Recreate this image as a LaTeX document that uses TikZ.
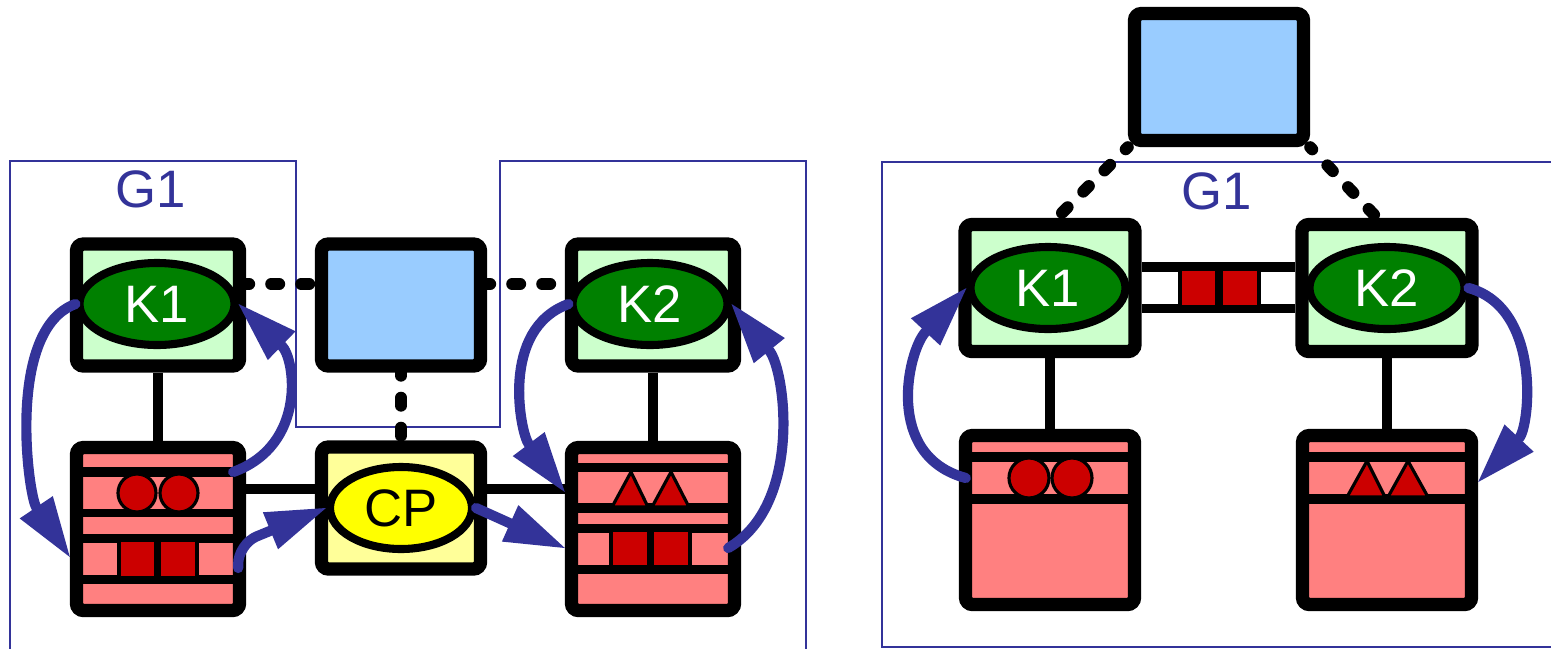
\documentclass[tikz,border=0pt]{standalone}
\usepackage{fontspec}
\setmainfont{Liberation Sans}
\usetikzlibrary{arrows.meta,shapes.geometric}

\definecolor{kmint}{HTML}{CCFFCC}
\definecolor{kgreen}{HTML}{008000}
\definecolor{srvblue}{HTML}{99CCFF}
\definecolor{cpcream}{HTML}{FFFF99}
\definecolor{cpyellow}{HTML}{FFFF00}
\definecolor{bufpink}{HTML}{FF8080}
\definecolor{tokred}{HTML}{CC0000}
\definecolor{grpblue}{HTML}{333399}

\tikzset{
  pics/bufdots/.style={code={
    \fill (-76,52) rectangle (76,62);
    \fill (-76,12) rectangle (76,20);
    \fill (-76,-14) rectangle (76,-5);
    \fill (-76,-55) rectangle (76,-46);
    \draw[tok] (-21,36) circle (19);
    \draw[tok] (21,36) circle (19);
    \draw[tok] (-39,-49) rectangle (-2,-11);
    \draw[tok] (1,-49) rectangle (39,-11);
  }},
  pics/buftri/.style={code={
    \fill (-76,57) rectangle (76,66);
    \fill (-76,16) rectangle (76,26);
    \fill (-76,-4) rectangle (76,5);
    \fill (-76,-45) rectangle (76,-36);
    \draw[tok] (-41,22) -- (-22,57) -- (-5,22) -- cycle;
    \draw[tok] (-1,22) -- (18,57) -- (36,22) -- cycle;
    \draw[tok] (-42,-38) rectangle (-4,-1);
    \draw[tok] (-1,-38) rectangle (37,-1);
  }},
  pics/slotdots/.style={code={
    \fill (-78,58) rectangle (78,68);
    \fill (-78,16) rectangle (78,26);
    \draw[tok] (-21,42) circle (20);
    \draw[tok] (22,42) circle (20);
  }},
  pics/slottri/.style={code={
    \fill (-78,58) rectangle (78,68);
    \fill (-78,16) rectangle (78,26);
    \draw[tok] (-40,23) -- (-20,59) -- (-2,23) -- cycle;
    \draw[tok] (1,23) -- (21,59) -- (41,23) -- cycle;
  }},
  box/.style={draw, line width=3.8pt, rounded corners=2pt, inner sep=0pt},
  kbox/.style={box, fill=kmint},
  srvbox/.style={box, fill=srvblue},
  cpbox/.style={box, fill=cpcream},
  bufbox/.style={box, fill=bufpink},
  kell/.style={ellipse, draw, line width=2.3pt, fill=kgreen, text=white, inner sep=0pt,
    minimum width=1.55cm, minimum height=0.82cm, font=\fontsize{15}{18}\selectfont},
  cpell/.style={kell, fill=cpyellow, text=black, minimum width=1.42cm},
  tok/.style={fill=tokred, draw=black, line width=0.9pt},
  wire/.style={line width=2.8pt},
  link/.style={line width=3.4pt, line cap=round, dash pattern=on 0.8mm off 2.2mm, dash phase=0.5mm},
  flow/.style={-{Triangle[length=6mm,width=4mm,line width=0pt]}, line width=2.9pt, draw=grpblue, line cap=round},
  grp/.style={draw=grpblue, line width=0.8pt},
  glab/.style={text=grpblue, font=\fontsize{15}{18}\selectfont}
}

\begin{document}
\begin{tikzpicture}[x=0.1mm,y=0.1mm]
\useasboundingbox (0,0) rectangle (1551,648);

% ---------------- Group outlines ----------------
\draw[grp] (10,-2) -- (10,487) -- (296,487) -- (296,221) -- (500,221) -- (500,487) -- (806,487) -- (806,-2);
\draw[grp] (1553,486) -- (882,486) -- (882,1) -- (1553,1);
\node[glab] (gl1) at (151,459) {G1};
\node[glab] (gl2) at (1217,457) {G1};

% ---------------- Left: two kernels around server and CP ----------------
\node[kbox, minimum width=1.63cm, minimum height=1.22cm] (kbA) at (158,343) {};
\node[srvbox, minimum width=1.59cm, minimum height=1.22cm] (srvL) at (401,343) {};
\node[kbox, minimum width=1.63cm, minimum height=1.22cm] (kbB) at (653,343) {};
\node[cpbox, minimum width=1.59cm, minimum height=1.22cm] (cpbox) at (401,140) {};
\node[bufbox, minimum width=1.63cm, minimum height=1.63cm] (bufA) at (158,119) {};
\node[bufbox, minimum width=1.63cm, minimum height=1.63cm] (bufB) at (653,119) {};
\path (bufA) pic {bufdots};
\path (bufB) pic {buftri};

\coordinate (dline) at (400,364);
\coordinate (hbus) at (400,159);
\draw[link] (kbA.east |- dline) -- (srvL.west |- dline);
\draw[link] (srvL.east |- dline) -- (kbB.west |- dline);
\draw[link] (srvL.south) -- (cpbox.north);
\draw[wire] (kbA.south) -- (bufA.north);
\draw[wire] (kbB.south) -- (bufB.north);
\draw[wire] (bufA.east |- hbus) -- (cpbox.west |- hbus);
\draw[wire] (cpbox.east |- hbus) -- (bufB.west |- hbus);

\node[kell] (keA) at (157,344) {K1};
\node[kell] (keB) at (650,344) {K2};
\node[cpell] (cp) at (401,140) {CP};

\draw[flow] (keA.west) to[out=200,in=124,looseness=0.75] ([yshift=-2.8mm]bufA.west);
\draw[flow] ([xshift=-1.3mm,yshift=5.7mm]bufA.east) to[out=20,in=-44,looseness=1.2] (keA.east);
\draw[flow, rounded corners=2mm] ([xshift=-0.8mm,yshift=-3.9mm]bufA.east) -- ++(0,24) -- (cp.west);
\draw[flow] (cp.east) -- ([yshift=-1.9mm]bufB.west);
\draw[flow] (keB.west) to[out=200,in=127,looseness=1.0] ([yshift=3.7mm]bufB.west);
\draw[flow] ([xshift=-1.3mm,yshift=-1.9mm]bufB.east) to[out=30,in=-51,looseness=0.9] (keB.east);

% ---------------- Right: kernels joined by a channel ----------------
\node[srvbox, minimum width=1.69cm, minimum height=1.27cm] (srvR) at (1219,571) {};
\node[kbox, minimum width=1.70cm, minimum height=1.27cm] (kbC) at (1050,360) {};
\node[kbox, minimum width=1.70cm, minimum height=1.27cm] (kbD) at (1387,360) {};
\node[bufbox, minimum width=1.69cm, minimum height=1.69cm] (bufC) at (1050,128) {};
\node[bufbox, minimum width=1.69cm, minimum height=1.69cm] (bufD) at (1387,128) {};
\path (bufC) pic {slotdots};
\path (bufD) pic {slottri};

\draw[link] (srvR.south west) -- ([xshift=0.7mm]kbC.north);
\draw[link] (srvR.south east) -- ([xshift=-1mm]kbD.north);
\draw[wire] (kbC.south) -- (bufC.north);
\draw[wire] (kbD.south) -- (bufD.north);

\coordinate (chtop) at (1219,381);
\coordinate (chbot) at (1219,339.5);
\draw[wire] (kbC.east |- chtop) -- (kbD.west |- chtop);
\draw[wire] (kbC.east |- chbot) -- (kbD.west |- chbot);
\draw[tok] (1180,341) rectangle (1217,379);
\draw[tok] (1221,341) rectangle (1259,379);

\node[kell] (keC) at (1048,360) {K1};
\node[kell] (keD) at (1387,360) {K2};

\draw[flow] ([xshift=0.7mm,yshift=4.2mm]bufC.west) to[out=165,in=227,looseness=1.15] (keC.west);
\draw[flow] (keD.east) to[out=-15,in=47,looseness=1.0] ([yshift=3.8mm]bufD.east);

\end{tikzpicture}
\end{document}
